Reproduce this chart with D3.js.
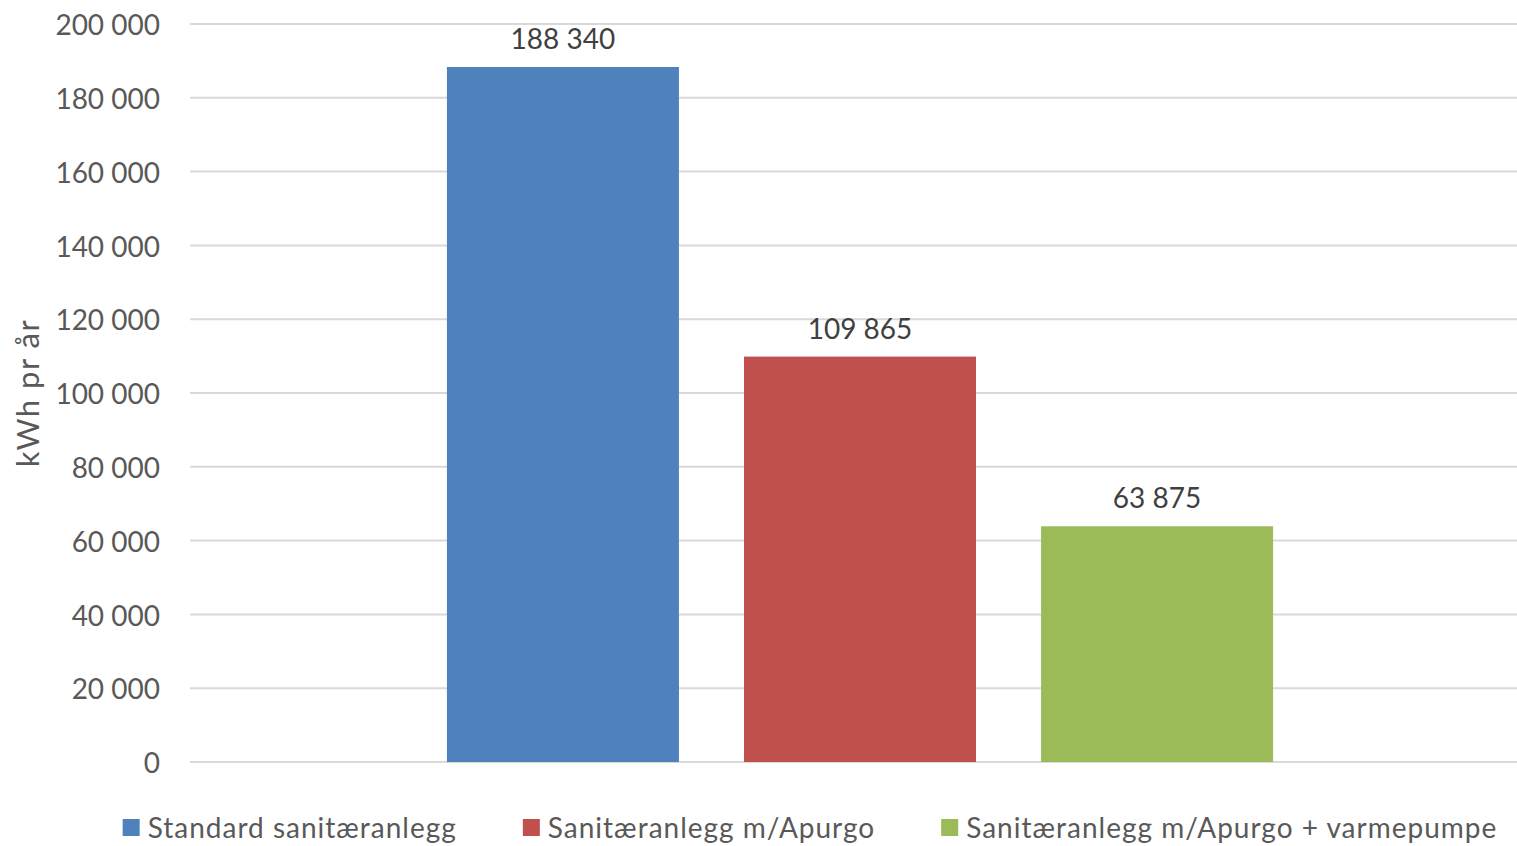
<!DOCTYPE html>
<html>
<head>
<meta charset="utf-8">
<script src="https://cdn.jsdelivr.net/npm/d3@7"></script>
<style>
  body { margin: 0; background: #fff; }
  text { font-family: Lato, "Open Sans", sans-serif; }
</style>
</head>
<body>
<script>
var w = 1517, h = 846;
var series = ["Standard sanitæranlegg", "Sanitæranlegg m/Apurgo", "Sanitæranlegg m/Apurgo + varmepumpe"];
var values = [188340, 109865, 63875];
var colors = ["#4f81bd", "#c0504d", "#9bbb59"];
var yTicks = [0, 20000, 40000, 60000, 80000, 100000, 120000, 140000, 160000, 180000, 200000];
var yTitle = "kWh pr år";

var fmt = function (v) { return d3.format(",")(v).replace(/,/g, " "); };

var svg = d3.select("body").append("svg")
    .attr("width", w)
    .attr("height", h);

var y = d3.scaleLinear().domain([0, 200000]).range([762, 24]);
var x0 = d3.scaleBand().domain([""]).range([190, 1530]).paddingInner(0).paddingOuter(0.311);
var x1 = d3.scaleBand().domain(series).range([0, x0.bandwidth()]).paddingInner(0.219).paddingOuter(0);

// gridlines
svg.append("g").selectAll("line")
    .data(yTicks)
    .enter().append("line")
    .attr("x1", 190).attr("x2", w)
    .attr("y1", function (d) { return y(d); })
    .attr("y2", function (d) { return y(d); })
    .attr("stroke", "#d9d9d9")
    .attr("stroke-width", 2);

// y axis labels
var yAxis = svg.append("g")
    .attr("transform", "translate(160,0)")
    .call(d3.axisLeft(y).tickValues(yTicks).tickFormat(fmt).tickSize(0).tickPadding(0));
yAxis.select(".domain").remove();
yAxis.selectAll("text")
    .attr("fill", "#595959")
    .attr("font-size", 28)
    .attr("dy", "0.38em")
    .style("font-family", "Lato, 'Open Sans', sans-serif");

// y title
svg.append("text")
    .attr("transform", "translate(39," + ((24 + 762) / 2) + ") rotate(-90)")
    .attr("text-anchor", "middle")
    .attr("fill", "#595959")
    .attr("font-size", 31)
    .attr("letter-spacing", 1.5)
    .text(yTitle);

// bars
var g = svg.append("g").attr("transform", "translate(" + x0("") + ",0)");
g.selectAll("rect")
    .data(values)
    .enter().append("rect")
    .attr("x", function (d, i) { return x1(series[i]); })
    .attr("y", function (d) { return y(d); })
    .attr("width", x1.bandwidth())
    .attr("height", function (d) { return y(0) - y(d); })
    .attr("fill", function (d, i) { return colors[i]; });

g.selectAll("text.val")
    .data(values)
    .enter().append("text")
    .attr("class", "val")
    .attr("x", function (d, i) { return x1(series[i]) + x1.bandwidth() / 2; })
    .attr("y", function (d) { return y(d) - 18; })
    .attr("text-anchor", "middle")
    .attr("fill", "#404040")
    .attr("font-size", 28)
    .text(fmt);

// legend
var legend = svg.append("g");
var items = legend.selectAll("g")
    .data(series)
    .enter().append("g");
items.append("rect")
    .attr("width", 17).attr("height", 17)
    .attr("y", 819)
    .attr("fill", function (d, i) { return colors[i]; });
items.append("text")
    .attr("x", 25)
    .attr("y", 838)
    .attr("fill", "#595959")
    .attr("font-size", 28)
    .attr("letter-spacing", 1)
    .text(function (d) { return d; });

var widths = [];
items.select("text").each(function () { widths.push(25 + this.getComputedTextLength()); });
var gap = 66;
var total = d3.sum(widths) + gap * (widths.length - 1);
var lx = 810 - total / 2;
items.attr("transform", function (d, i) {
    var pos = lx;
    lx += widths[i] + gap;
    return "translate(" + pos + ",0)";
});
</script>
</body>
</html>
